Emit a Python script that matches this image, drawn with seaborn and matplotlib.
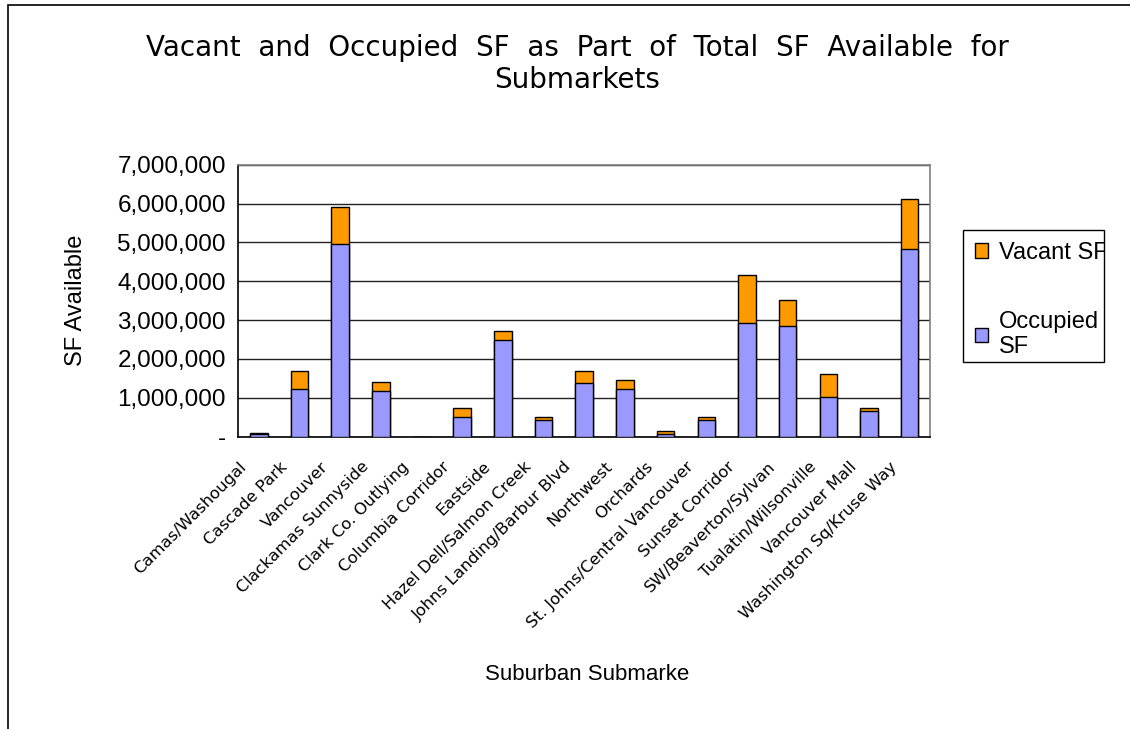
import numpy as np
import pandas as pd
import matplotlib.pyplot as plt
import matplotlib.ticker as mticker
import matplotlib.transforms as mtrans
from matplotlib.patches import Rectangle, Patch
import seaborn as sns

sns.set_style('white')
plt.rcParams['font.family'] = ['Liberation Sans', 'DejaVu Sans']
plt.rcParams['text.color'] = 'black'
plt.rcParams['axes.labelcolor'] = 'black'
plt.rcParams['xtick.color'] = 'black'
plt.rcParams['ytick.color'] = 'black'

submarkets = ['Camas/Washougal', 'Cascade Park', 'Vancouver', 'Clackamas Sunnyside',
              'Clark Co. Outlying', 'Columbia Corridor', 'Eastside', 'Hazel Dell/Salmon Creek',
              'Johns Landing/Barbur Blvd', 'Northwest', 'Orchards', 'St. Johns/Central Vancouver',
              'Sunset Corridor', 'SW/Beaverton/Sylvan', 'Tualatin/Wilsonville', 'Vancouver Mall',
              'Washington Sq/Kruse Way']
occupied = [65000, 1240000, 4970000, 1170000, 0, 510000, 2480000, 430000,
            1390000, 1240000, 60000, 430000, 2920000, 2840000, 1020000, 657000, 4820000]
vacant = [25000, 445000, 950000, 230000, 0, 234000, 230000, 88000,
          295000, 220000, 87000, 80000, 1250000, 670000, 600000, 87000, 1310000]

df = pd.DataFrame({'submarket': submarkets, 'occupied': occupied, 'vacant': vacant})
df['total'] = df['occupied'] + df['vacant']

occ_color = '#9999FF'
vac_color = '#FF9900'

fig = plt.figure(figsize=(11.3, 7.29), dpi=100)
ax = fig.add_axes([0.211, 0.401, 0.612, 0.373])

sns.barplot(data=df, x='submarket', y='total', color=vac_color, width=0.43,
            edgecolor='black', linewidth=1, saturation=1, ax=ax, zorder=3)
sns.barplot(data=df, x='submarket', y='occupied', color=occ_color, width=0.43,
            edgecolor='black', linewidth=1, saturation=1, ax=ax, zorder=4)

ax.set_xlim(-0.5, len(submarkets) - 0.5)
ax.set_ylim(0, 7000000)
ax.yaxis.set_major_locator(mticker.MultipleLocator(1000000))
ax.yaxis.set_major_formatter(mticker.FuncFormatter(lambda v, p: '-' if v == 0 else f'{v:,.0f}'))
ax.grid(axis='y', color='#222222', linewidth=1, zorder=0)
ax.set_axisbelow(True)

# ticks between categories
ax.set_xticks(np.arange(len(submarkets)))
ax.set_xticklabels(submarkets, rotation=45, ha='right', rotation_mode='anchor',
                   fontsize=11.8, family='DejaVu Sans')
ax.tick_params(axis='x', which='major', length=0, pad=16)
shift = mtrans.ScaledTranslation(-20 / 100, 0, fig.dpi_scale_trans)
for lbl in ax.get_xticklabels():
    lbl.set_transform(lbl.get_transform() + shift)
ax.set_xticks(np.arange(-0.5, len(submarkets)), minor=True)
ax.tick_params(axis='x', which='minor', length=5, width=1, color='black', direction='out')
ax.tick_params(axis='y', length=5, width=1, color='black', direction='out', labelsize=17.5, pad=4)

for side in ['top', 'right']:
    ax.spines[side].set_color('#808080')
    ax.spines[side].set_linewidth(1.2)
for side in ['left', 'bottom']:
    ax.spines[side].set_color('black')
    ax.spines[side].set_linewidth(1.2)

ax.set_xlabel('')
ax.set_ylabel('SF Available', fontsize=17, labelpad=22)
fig.text(0.52, 0.075, 'Suburban Submarke', fontsize=16, ha='center', va='center')

fig.text(0.511, 0.912, 'Vacant  and  Occupied  SF  as  Part  of  Total  SF  Available  for\nSubmarkets',
         fontsize=20, ha='center', va='center', family='DejaVu Sans', linespacing=1.2)

# legend with a fixed box that clips the labels
box = Rectangle((963 / 1130, 1 - 362 / 729), 141 / 1130, 132 / 729, transform=fig.transFigure,
                facecolor='white', edgecolor='black', linewidth=1, zorder=5)
fig.patches.append(box)
handles = [Patch(facecolor=vac_color, edgecolor='black', linewidth=1),
           Patch(facecolor=occ_color, edgecolor='black', linewidth=1)]
leg = fig.legend(handles, ['Vacant SF', 'Occupied\nSF'], loc='upper left',
                 bbox_to_anchor=(0.852, 0.6845), borderaxespad=0, fontsize=17, frameon=False,
                 handlelength=0.55, handleheight=0.55, handletextpad=0.5,
                 labelspacing=2.0, borderpad=0.5)
leg.set_zorder(6)
clip = Rectangle((963 / 1130, 1 - 362 / 729), 141 / 1130, 132 / 729, transform=fig.transFigure)
for t in leg.get_texts():
    t.set_clip_path(clip)

fig.patches.append(Rectangle((0.007, -0.02), 1.05, 1.013, transform=fig.transFigure,
                             fill=False, edgecolor='black', linewidth=1.2))

fig.savefig('out.png', dpi=100)
